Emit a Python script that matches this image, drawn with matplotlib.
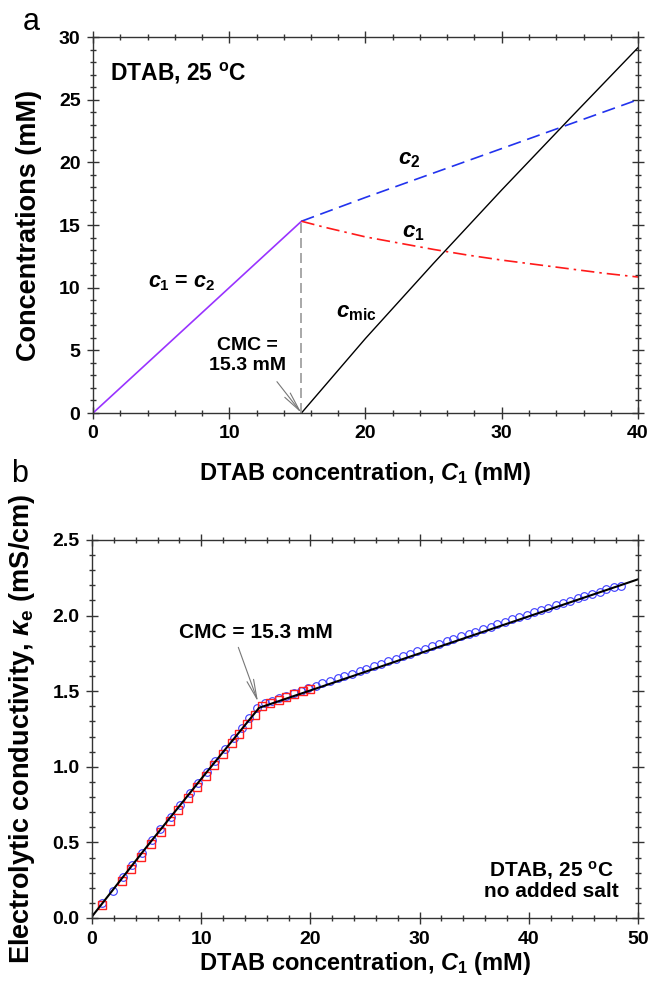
import numpy as np
import matplotlib
matplotlib.use("Agg")
import matplotlib.pyplot as plt
from matplotlib.ticker import MultipleLocator, FormatStrFormatter

plt.rcParams['font.family'] = ['Liberation Sans', 'DejaVu Sans']
plt.rcParams['mathtext.fontset'] = 'custom'
plt.rcParams['mathtext.rm'] = 'Liberation Sans:bold'
plt.rcParams['mathtext.it'] = 'Liberation Sans:bold:italic'
plt.rcParams['mathtext.bf'] = 'Liberation Sans:bold'
plt.rcParams['mathtext.sf'] = 'Liberation Sans'

# ---- panel a data: concentrations vs total DTAB ----
cmc = 15.3
below_x = [0.0, 15.3]
below_c = [0.0, 15.3]
c1_x = [15.3, 17.0, 20.0, 22.5, 25.0, 27.5, 30.0, 32.5, 35.0, 37.5, 40.0]
c1_y = [15.3, 14.82, 14.05, 13.55, 13.05, 12.6, 12.2, 11.85, 11.5, 11.15, 10.85]
c2_x = [15.3, 20.0, 25.0, 30.0, 35.0, 40.0]
c2_y = [15.3, 17.2, 19.15, 21.1, 23.05, 25.0]
cmic_x = [15.3, 20.0, 25.0, 30.0, 35.0, 40.0]
cmic_y = [0.0, 5.95, 11.95, 17.8, 23.5, 29.15]

# ---- panel b data: conductivity ----
circ_x = [0.92, 1.88, 2.83, 3.70, 4.55, 5.5, 6.27, 7.22, 8.06, 8.94, 9.7, 10.5,
          11.3, 12.2, 13.0, 13.7, 14.4,
          15.1, 15.8, 16.5, 17.1, 17.8, 18.5, 19.1, 19.8, 20.5, 21.1, 21.8, 22.5,
          23.1, 23.8, 24.5, 25.1, 25.8, 26.5, 27.1, 27.8, 28.5, 29.1, 29.8, 30.5,
          31.1, 31.8, 32.5, 33.1, 33.8, 34.5, 35.1, 35.8, 36.5, 37.1, 37.8, 38.5,
          39.1, 39.8, 40.5, 41.1, 41.8, 42.5, 43.1, 43.8, 44.5, 45.1, 45.8, 46.5,
          47.1, 47.8, 48.4]
circ_y = [0.099, 0.180, 0.273, 0.353, 0.430, 0.516, 0.590, 0.670, 0.750, 0.830, 0.895, 0.967,
          1.040, 1.115, 1.190, 1.255, 1.320,
          1.39, 1.42, 1.437, 1.452, 1.470, 1.487, 1.502, 1.519, 1.536, 1.551, 1.568, 1.585,
          1.600, 1.617, 1.634, 1.649, 1.666, 1.683, 1.698, 1.715, 1.732, 1.747, 1.764, 1.781,
          1.796, 1.813, 1.830, 1.845, 1.862, 1.879, 1.894, 1.911, 1.927, 1.942, 1.958, 1.975,
          1.990, 2.006, 2.022, 2.036, 2.052, 2.068, 2.082, 2.098, 2.114, 2.128, 2.143, 2.159,
          2.173, 2.188, 2.195]
sq_x = [0.95, 2.75, 3.6, 4.5, 5.4, 6.3, 7.1, 7.9, 8.8, 9.6, 10.4, 11.2, 12.0, 12.8,
        13.5, 14.2, 14.9, 15.6, 16.3, 17.1, 17.8, 18.5, 19.3, 19.95]
sq_y = [0.086, 0.248, 0.325, 0.406, 0.487, 0.568, 0.640, 0.713, 0.794, 0.866, 0.938, 1.010,
        1.082, 1.155, 1.218, 1.281, 1.344, 1.40, 1.425, 1.445, 1.46, 1.48, 1.50, 1.515]
fit_x = [0.0, 5.0, 10.0, 15.3, 50.0]
fit_y = [0.01, 0.47, 0.92, 1.39, 2.24]

fig = plt.figure(figsize=(6.52, 9.82), dpi=100)
axa = fig.add_axes([93/652, 1-413/982, 545/652, 376/982])
axb = fig.add_axes([92/652, 1-918/982, 546/652, 378/982])


def style(ax):
    ax.tick_params(which='both', direction='inout', top=True, right=True,
                   labelsize=14, pad=5, color='#333333', width=1)
    ax.tick_params(which='major', length=8)
    ax.tick_params(which='minor', length=4)
    for lab in ax.get_xticklabels() + ax.get_yticklabels():
        lab.set_fontweight('bold')
    for s in ax.spines.values():
        s.set_linewidth(1.0)
        s.set_color('#333333')


# panel a
axa.plot(below_x, below_c, color='#9933ff', lw=1.2)
axa.plot(c2_x, c2_y, color='#2233ee', lw=1.2, dashes=(8, 4))
axa.plot(c1_x, c1_y, color='#ff1a1a', lw=1.2, dashes=(8, 3, 1.5, 3))
axa.plot(cmic_x, cmic_y, color='black', lw=1.0)
axa.plot([cmc, cmc], [0, cmc], color='#999999', lw=1.2, dashes=(6, 3))
axa.set_xlim(0, 40)
axa.set_ylim(0, 30)
axa.xaxis.set_major_locator(MultipleLocator(10))
axa.xaxis.set_minor_locator(MultipleLocator(2))
axa.yaxis.set_major_locator(MultipleLocator(5))
axa.yaxis.set_minor_locator(MultipleLocator(1))
style(axa)
axa.set_xlabel(r'DTAB concentration, $C_1$ (mM)', fontsize=17, fontweight='bold')
axa.xaxis.set_label_coords(0.5, -0.125)
axa.set_ylabel('Concentrations (mM)', fontsize=19.5, fontweight='bold')
axa.yaxis.set_label_coords(-0.094, 0.5)
axa.text(1.25, 27.1, r'DTAB, 25 $^{\rm o}$C', fontsize=16.5, fontweight='bold', va='center')
axa.text(6.5, 10.45, r'$c_1$ = $c_2$', fontsize=15.5, fontweight='bold', ha='center', va='center')
axa.text(23.2, 20.2, r'$c_2$', fontsize=16, ha='center', va='center')
axa.text(23.5, 14.4, r'$c_1$', fontsize=16, ha='center', va='center')
axa.text(19.3, 8.05, r'$c_{\rm mic}$', fontsize=16, ha='center', va='center')
axa.text(11.35, 4.6, 'CMC =\n15.3 mM', fontsize=14, fontweight='bold', ha='center', va='center')
axa.annotate('', xy=(cmc, 0), xytext=(13.5, 2.5),
             arrowprops=dict(arrowstyle='->,head_length=1.4,head_width=0.25',
                             color='#777777', lw=0.8, shrinkA=0, shrinkB=0))

# panel b
axb.plot(circ_x, circ_y, 'o', ms=5.5, mfc='none', mec='#3a3aff', mew=0.8)
axb.plot(sq_x, sq_y, 's', ms=5.5, mfc='none', mec='#ff2020', mew=1.0)
axb.plot(fit_x, fit_y, color='black', lw=1.5)
axb.set_xlim(0, 50)
axb.set_ylim(0, 2.5)
axb.xaxis.set_major_locator(MultipleLocator(10))
axb.xaxis.set_minor_locator(MultipleLocator(2))
axb.yaxis.set_major_locator(MultipleLocator(0.5))
axb.yaxis.set_minor_locator(MultipleLocator(0.1))
axb.yaxis.set_major_formatter(FormatStrFormatter('%.1f'))
style(axb)
axb.set_xlabel(r'DTAB concentration, $C_1$ (mM)', fontsize=17, fontweight='bold')
axb.xaxis.set_label_coords(0.5, -0.085)
axb.set_ylabel(r'Electrolytic conductivity, $\kappa_{\rm e}$ (mS/cm)', fontsize=19.5,
               fontweight='bold')
axb.yaxis.set_label_coords(-0.101, 0.5)
axb.text(15.0, 1.89, 'CMC = 15.3 mM', fontsize=15, fontweight='bold', ha='center', va='center')
axb.annotate('', xy=(15.2, 1.43), xytext=(13.4, 1.79),
             arrowprops=dict(arrowstyle='->,head_length=1.4,head_width=0.25',
                             color='#777777', lw=0.8, shrinkA=0, shrinkB=0))
axb.text(42.1, 0.25, r'DTAB, 25 $^{\rm o}$C' + '\nno added salt', fontsize=15,
         fontweight='bold', ha='center', va='center', linespacing=1.0)

fig.text(31/652, 1-22/982, 'a', fontsize=22, ha='center', va='center')
fig.text(20/652, 1-474/982, 'b', fontsize=22, ha='center', va='center')

fig.savefig('out.png', dpi=100)
